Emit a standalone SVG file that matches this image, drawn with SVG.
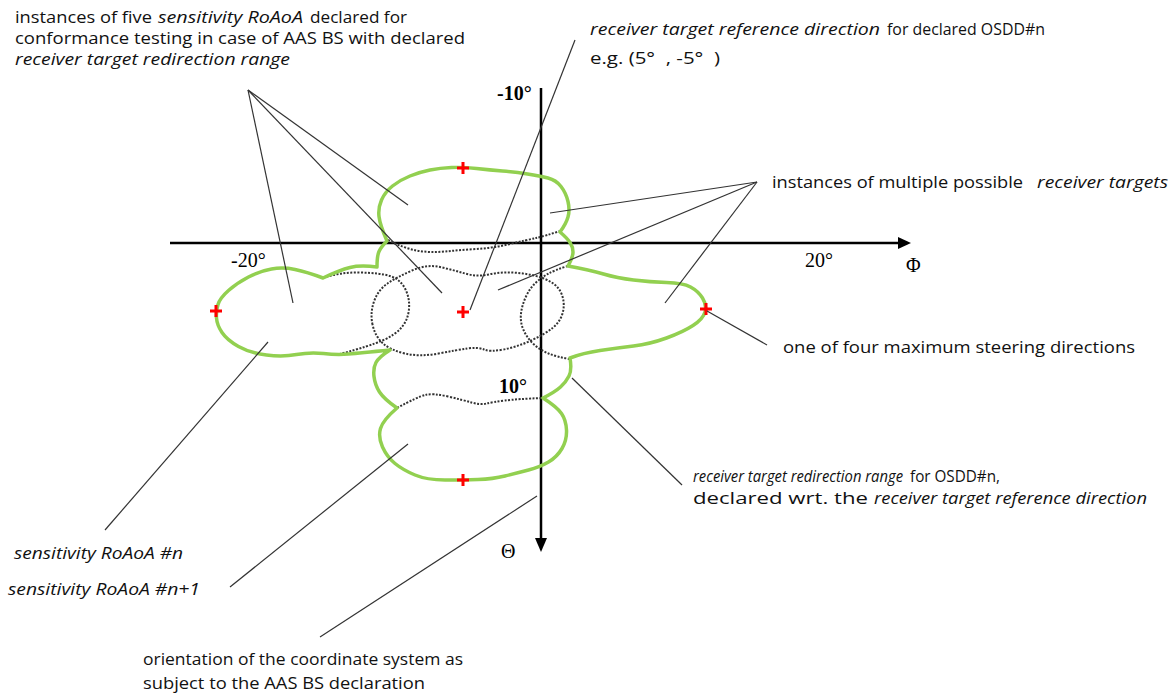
<svg xmlns="http://www.w3.org/2000/svg" width="1174" height="695" viewBox="0 0 1174 695">
<style>
.lbl{font-family:"Open Sans","Noto Sans",sans-serif;font-size:16.5px;fill:#111}
.sm{font-size:15.5px}
.it{font-style:italic}
.ax{font-family:"Liberation Serif",serif;font-size:20px;fill:#000}
.b{font-weight:bold}
.dot{fill:none;stroke:#333;stroke-width:2;stroke-dasharray:2 1.5}
.env{fill:none;stroke:#92d050;stroke-width:3.5;stroke-linejoin:round}
.lead{fill:none;stroke:#333;stroke-width:1.2}
.axis{stroke:#000;stroke-width:2.5}
.cross{fill:none;stroke:#f00;stroke-width:3}
</style>
<defs>
<path id="cross" d="M-6,0H6M0,-6V6"/>
</defs>
<rect width="1174" height="695" fill="#fff"/>

<g id="axes">
<line class="axis" x1="170" y1="243" x2="899" y2="243"/>
<polygon points="898,237 911,243 898,249" fill="#000"/>
<line class="axis" x1="541" y1="88" x2="541" y2="539"/>
<polygon points="535,538 541,552 547,538" fill="#000"/>
<text class="ax b" x="497" y="100">-10°</text>
<text class="ax" x="231" y="267">-20°</text>
<text class="ax" x="805" y="267">20°</text>
<text class="ax" x="906" y="272" font-size="23">Φ</text>
<text class="ax b" x="499" y="393">10°</text>
<text class="ax" x="501" y="558" font-size="18">Θ</text>
</g>

<g id="lobes">
<path id="lobe-top-hidden" class="dot" d="M388,240 Q403,248 416.5,250.5 Q430,253 445,251.5 Q460,250 476.5,249 Q493,248 510,244 Q527,240 536,238 Q545,236 560,231"/>
<path id="lobe-center" class="dot" d="M372.5,324.5 Q370,313 374,301.5 Q378,290 387.5,283.5 Q397,277 412,270.5 Q427,264 440,267 Q453,270 465,273.5 Q477,277 488.5,274.5 Q500,272 511.5,272.5 Q523,273 534,275.5 Q545,278 552.5,283 Q560,288 562.5,296.5 Q565,305 562.5,313.5 Q560,322 552.5,328 Q545,334 531,340.5 Q517,347 503.5,349.5 Q490,352 484,349.5 Q478,347 467.5,348.5 Q457,350 438.5,353.5 Q420,357 405,353.5 Q390,350 382.5,343 Q375,336 372.5,324.5 Z"/>
<path id="lobe-right-hidden" class="dot" d="M568,266 Q555,270 548.5,273.5 Q542,277 536,282.5 Q530,288 526,296.5 Q522,305 521,313.5 Q520,322 523.5,330 Q527,338 533.5,344 Q540,350 548.5,353.5 Q557,357 570,359"/>
<path id="lobe-left-hidden" class="dot" d="M323,278 Q340,272 360,272.5 Q380,273 390,276 Q400,279 405,288.5 Q410,298 409,309 Q408,320 401.5,327.5 Q395,335 382.5,340.5 Q370,346 340,354"/>
<path id="lobe-bottom-hidden" class="dot" d="M397,408 Q417,397 425,395 Q433,393 448,396.5 Q463,400 471.5,402.5 Q480,405 486.5,403.5 Q493,402 505,400.5 Q517,399 543,398"/>
</g>

<g id="redirection-range">
<path class="env" d="M387,241 Q380,225 379,216.5 Q378,208 381.5,200 Q385,192 392.5,186 Q400,180 410,176 Q420,172 430,170 Q440,168 451.5,167.5 Q463,167 476.5,168.5 Q490,170 502.5,171 Q515,172 527.5,174 Q540,176 548,178 Q556,180 561,186.5 Q566,193 568,201.5 Q570,210 568,217 Q566,224 560,232 Q567,238 570,242.5 Q573,247 573,252 Q573,257 568,266 Q590,270 603.5,274 Q617,278 633.5,280 Q650,282 666.5,282.5 Q683,283 690.5,287 Q698,291 702.5,298 Q707,305 705,312 Q703,319 693,325.5 Q683,332 666.5,338 Q650,344 633.5,346 Q617,348 600,350.5 Q583,353 570,358 Q572,370 569,376 Q566,382 560.5,387 Q555,392 543,398 Q557,407 561.5,413.5 Q566,420 566.5,430 Q567,440 562,448.5 Q557,457 548.5,462 Q540,467 528.5,470 Q517,473 505,476 Q493,479 478,479.5 Q463,480 445,480 Q427,480 415,475 Q403,470 395,463.5 Q387,457 382.5,447 Q378,437 380.5,428.5 Q383,420 397,408 Q384,399 379.5,392 Q375,385 374,376.5 Q373,368 376,362.5 Q379,357 390,350 Q360,353 348.5,354 Q337,355 323.5,353.5 Q310,352 296.5,354.5 Q283,357 266.5,355 Q250,353 238.5,346.5 Q227,340 222,332.5 Q217,325 216.5,318 Q216,311 218,304.5 Q220,298 228.5,290.5 Q237,283 248.5,277 Q260,271 271.5,269 Q283,267 295,269.5 Q307,272 323,278 Q340,270 350,267.5 Q360,265 377,267 Q377,256 379,251.5 Q381,247 387,241 Z"/>
</g>

<g id="steering-points">
<use href="#cross" class="cross" x="463" y="168"/>
<use href="#cross" class="cross" x="216" y="311"/>
<use href="#cross" class="cross" x="463" y="312"/>
<use href="#cross" class="cross" x="706" y="309"/>
<use href="#cross" class="cross" x="463" y="480"/>
</g>

<g id="connectors">
<line class="lead" x1="248" y1="90" x2="293" y2="303"/>
<line class="lead" x1="248" y1="90" x2="442" y2="293"/>
<line class="lead" x1="248" y1="90" x2="408" y2="205"/>
<line class="lead" x1="575" y1="40" x2="470" y2="310"/>
<line class="lead" x1="757" y1="182" x2="550" y2="213"/>
<line class="lead" x1="757" y1="182" x2="498" y2="290"/>
<line class="lead" x1="757" y1="182" x2="665" y2="303"/>
<line class="lead" x1="707" y1="311" x2="767" y2="345"/>
<line class="lead" x1="572" y1="378" x2="682" y2="485"/>
<line class="lead" x1="268" y1="342" x2="105" y2="530"/>
<line class="lead" x1="408" y1="444" x2="230" y2="587"/>
<line class="lead" x1="537" y1="496" x2="320" y2="637"/>
</g>

<g id="label-five-instances">
<text class="lbl sm" x="15" y="23" textLength="137" lengthAdjust="spacingAndGlyphs">instances of five</text>
<text class="lbl sm it" x="158" y="23" textLength="145" lengthAdjust="spacingAndGlyphs">sensitivity RoAoA</text>
<text class="lbl sm" x="310" y="23" textLength="97" lengthAdjust="spacingAndGlyphs">declared for</text>
<text class="lbl sm" x="15" y="44" textLength="450" lengthAdjust="spacingAndGlyphs">conformance testing in case of AAS BS with declared</text>
<text class="lbl sm it" x="15" y="65" textLength="275" lengthAdjust="spacingAndGlyphs">receiver target redirection range</text>
</g>
<g id="label-reference-direction">
<text class="lbl it" x="590" y="35" textLength="290" lengthAdjust="spacingAndGlyphs">receiver target reference direction</text>
<text class="lbl" x="887" y="35" textLength="158" lengthAdjust="spacingAndGlyphs">for declared OSDD#n</text>
<text class="lbl" x="590" y="64" textLength="130" lengthAdjust="spacingAndGlyphs" style="white-space:pre" xml:space="preserve">e.g. (5°  , -5°  )</text>
</g>
<g id="label-receiver-targets">
<text class="lbl" x="772" y="188" textLength="251" lengthAdjust="spacingAndGlyphs">instances of multiple possible</text>
<text class="lbl it" x="1037" y="188" textLength="131" lengthAdjust="spacingAndGlyphs">receiver targets</text>
</g>
<g id="label-max-steering">
<text class="lbl" x="783" y="353" textLength="352" lengthAdjust="spacingAndGlyphs">one of four maximum steering directions</text>
</g>
<g id="label-redirection-range">
<text class="lbl sm it" x="693" y="482" textLength="210" lengthAdjust="spacingAndGlyphs">receiver target redirection range</text>
<text class="lbl sm" x="910" y="482" textLength="90" lengthAdjust="spacingAndGlyphs">for OSDD#n,</text>
<text class="lbl sm" x="693" y="504" textLength="175" lengthAdjust="spacingAndGlyphs">declared wrt. the</text>
<text class="lbl sm it" x="874" y="504" textLength="273" lengthAdjust="spacingAndGlyphs">receiver target reference direction</text>
</g>
<g id="label-roaoa-n">
<text class="lbl it" x="14" y="559" textLength="169" lengthAdjust="spacingAndGlyphs">sensitivity RoAoA #n</text>
</g>
<g id="label-roaoa-n1">
<text class="lbl it" x="8" y="595" textLength="192" lengthAdjust="spacingAndGlyphs">sensitivity RoAoA #n+1</text>
</g>
<g id="label-orientation">
<text class="lbl" x="143" y="665" textLength="320" lengthAdjust="spacingAndGlyphs">orientation of the coordinate system as</text>
<text class="lbl" x="143" y="689" textLength="282" lengthAdjust="spacingAndGlyphs">subject to the AAS BS declaration</text>
</g>
</svg>
